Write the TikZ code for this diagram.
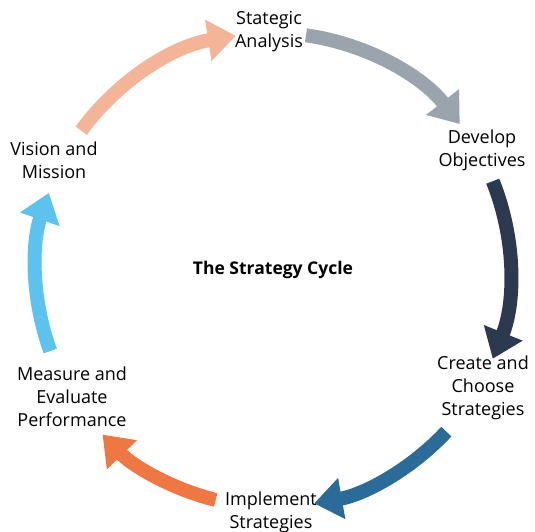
\documentclass[tikz,border=0pt]{standalone}
\usepackage{fontspec}
\setmainfont{Open Sans}
\usetikzlibrary{calc,arrows.meta}

\definecolor{peach}{HTML}{F4B498}
\definecolor{steel}{HTML}{9BA3AC}
\definecolor{navy}{HTML}{2B3A4F}
\definecolor{ocean}{HTML}{2A6B98}
\definecolor{tangerine}{HTML}{EE7743}
\definecolor{sky}{HTML}{5CC3EF}

\begin{document}
\begin{tikzpicture}[x=1pt, y=1pt,
  every node/.style={font=\fontsize{18}{23}\selectfont, align=center, inner sep=0pt},
  cyc/.style={line width=14pt, -{Triangle[length=28pt, width=40pt]}}]

  % 参数
  \def\R{237}   % 圆半径
  \useasboundingbox (0,0) rectangle (535,532);
  \coordinate (C) at (273,262);

  % ---- 标签 ----
  \node (sa) at (269,500) {Stategic\\Analysis};
  \node (do) at (482,382) {Develop\\Objectives};
  \node (cc) at (483,144) {Create and\\Choose\\Strategies};
  \node (is) at (271,20) {Implement\\Strategies};
  \node (me) at (72,135) {Measure and\\Evaluate\\Performance};
  \node (vm) at (54,372) {Vision and\\Mission};
  \node[font=\fontsize{17.5}{20}\selectfont\bfseries] (title) at (C) {The Strategy Cycle};

  % ---- 圆弧起点 ----
  \coordinate (A1) at ($(C)+(144:\R)$);
  \coordinate (A2) at ($(C)+(82:\R)$);
  \coordinate (A3) at ($(C)+(22:\R)$);
  \coordinate (A4) at ($(C)+(-43:\R)$);
  \coordinate (A5) at ($(C)+(-104:\R)$);
  \coordinate (A6) at ($(C)+(-160:\R)$);

  % ---- 箭头 ----
  \draw[cyc, peach]     (A1) arc[start angle=144,  end angle=99,   radius=\R];
  \draw[cyc, steel]     (A2) arc[start angle=82,   end angle=38,   radius=\R];
  \draw[cyc, navy]      (A3) arc[start angle=22,   end angle=-22,  radius=\R];
  \draw[cyc, ocean]     (A4) arc[start angle=-43,  end angle=-80,  radius=\R];
  \draw[cyc, tangerine] (A5) arc[start angle=-104, end angle=-136, radius=\R];
  \draw[cyc, sky]       (A6) arc[start angle=-160, end angle=-199, radius=\R];

\end{tikzpicture}
\end{document}
